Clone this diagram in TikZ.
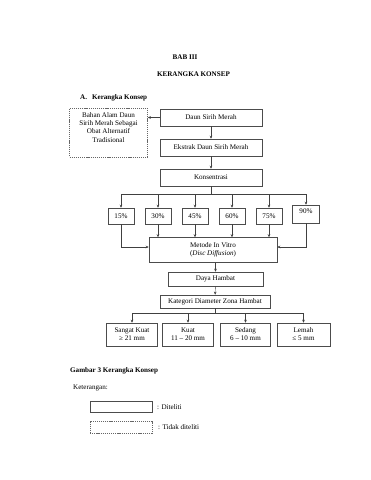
\documentclass[tikz,border=0pt]{standalone}
\usepackage{fontspec}
\setmainfont{Liberation Serif}
\usetikzlibrary{arrows.meta}
\newcommand{\fsz}{\fontsize{7.1}{8.1}\selectfont}
\tikzset{
  box/.style={draw=black!70, line width=0.55pt, inner sep=0pt, align=center, font=\fsz, fill=white},
  dbox/.style={box, draw=black!60, dash pattern=on 1.2pt off 0.9pt},
  conn/.style={draw=black!75, line width=0.45pt},
  arr/.style={conn, -{Stealth[length=3pt,width=2.6pt]}},
  txt/.style={inner sep=0pt, font=\fsz}
}
\begin{document}
\begin{tikzpicture}[x=1pt,y=-1pt]
\useasboundingbox[fill=white] (0,0) rectangle (371,480);
% titles
\node[txt, font=\fsz\bfseries] (bab) at (185,57) {BAB III};
\node[txt, font=\fsz\bfseries] (judul) at (193.5,74) {KERANGKA KONSEP};
\node[txt, font=\fsz\bfseries, anchor=west] (suba) at (80,98) {A.\hspace{5pt}Kerangka Konsep};
% main column
\node[box, minimum width=102pt, minimum height=17pt] (daun) at (211,117.5) {Daun Sirih Merah};
\node[box, minimum width=102pt, minimum height=17pt] (ekstrak) at (211,147.5) {Ekstrak Daun Sirih Merah};
\node[box, minimum width=102pt, minimum height=17pt] (kons) at (211,177.5) {Konsentrasi};
\node[dbox, minimum width=78pt, minimum height=49pt] (bahan) at (108.5,132.5) {Bahan Alam Daun\\Sirih Merah Sebagai\\Obat Alternatif\\Tradisional\\[2pt]};
\draw[arr] (daun.west) -- (bahan.east |- daun.west);
\draw[arr] (daun) -- (ekstrak);
\draw[arr] (ekstrak) -- (kons);
% percentages
\node[box, minimum width=26pt, minimum height=16pt] (p15) at (121,216) {15\%};
\node[box, minimum width=26pt, minimum height=16pt] (p30) at (158,216) {30\%};
\node[box, minimum width=26pt, minimum height=16pt] (p45) at (195,216) {45\%};
\node[box, minimum width=26pt, minimum height=16pt] (p60) at (232,216) {60\%};
\node[box, minimum width=26pt, minimum height=16pt] (p75) at (269,216) {75\%};
\node[box, minimum width=27pt, minimum height=18pt, text depth=6pt] (p90) at (306,214) {90\%};
\coordinate (bus) at (211,194);
\draw[conn] (kons.south) -- (bus);
\draw[conn] (p15.north |- bus) -- (p90.north |- bus);
\foreach \p in {p15,p30,p45,p60,p75,p90}{
  \draw[arr] (\p.north |- bus) -- (\p.north);
}
% metode
\node[box, minimum width=128pt, minimum height=25pt] (metode) at (213,250) {Metode In Vitro\\(\textit{Disc Diffusion})};
\foreach \p in {p30,p45,p60,p75}{
  \draw[arr] (\p.south) -- (\p.south |- metode.north);
}
\draw[arr] (p15.south) |- (metode.west |- 0,247);
\draw[arr] (p90.south) |- (metode.east |- 0,247);
% daya, kategori
\node[box, minimum width=95pt, minimum height=14pt] (daya) at (215.5,279) {Daya Hambat};
\node[box, minimum width=110pt, minimum height=13pt] (kat) at (215,301.5) {Kategori Diameter Zona Hambat};
\draw[arr] (metode.south -| daya.north) -- (daya.north);
\draw[arr] (daya) -- (kat);
% bottom categories
\node[box, minimum width=51pt, minimum height=23pt] (sk) at (132,334.5) {Sangat Kuat\\≥ 21 mm};
\node[box, minimum width=51pt, minimum height=23pt] (ku) at (188,334.5) {Kuat\\11 – 20 mm};
\node[box, minimum width=50pt, minimum height=23pt] (se) at (245.5,334.5) {Sedang\\6 – 10 mm};
\node[box, minimum width=53pt, minimum height=23pt] (le) at (303.5,334.5) {Lemah\\≤ 5 mm};
\coordinate (bus2) at (215,313.5);
\draw[conn] (kat.south) -- (bus2);
\draw[conn] (sk.north |- bus2) -- (le.north |- bus2);
\foreach \p in {sk,ku,se,le}{
  \draw[arr] (\p.north |- bus2) -- (\p.north);
}
% legend
\node[txt, font=\fsz\bfseries, anchor=west] (gambar) at (70,371) {Gambar 3 Kerangka Konsep};
\node[txt, anchor=west] (ket) at (73,388) {Keterangan:};
\node[box, minimum width=62pt, minimum height=11pt] (lg1) at (121,406.5) {};
\node[dbox, minimum width=62pt, minimum height=12pt] (lg2) at (121,427) {};
\node[txt, anchor=west] (lt1) at (157,407) {: Diteliti};
\node[txt, anchor=west] (lt2) at (158,427) {: Tidak diteliti};
\end{tikzpicture}
\end{document}
